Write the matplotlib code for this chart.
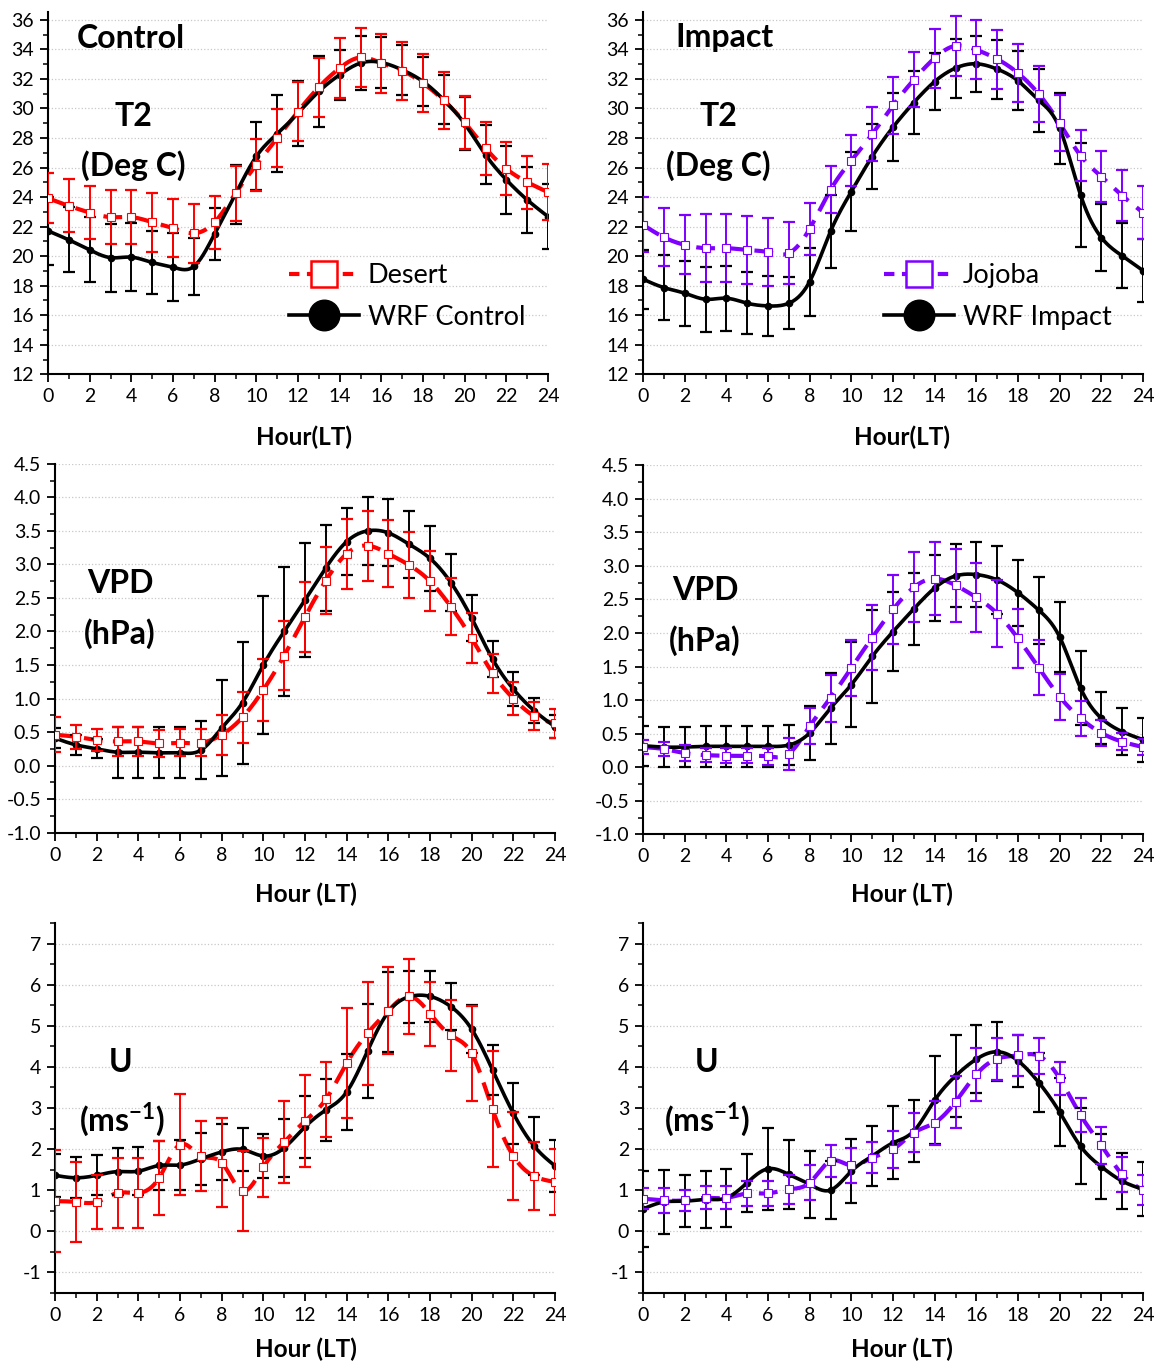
"""
Six-panel diurnal cycle: T2, VPD and U, observed vs WRF,
Control (left) and Impact (right), with error bars.
"""

import numpy as np
import matplotlib

matplotlib.use("Agg")
import matplotlib.pyplot as plt
from matplotlib.lines import Line2D
from matplotlib.ticker import MultipleLocator, FormatStrFormatter

plt.rcParams["font.family"] = ["Lato", "DejaVu Sans"]
plt.rcParams["mathtext.fontset"] = "custom"
plt.rcParams["mathtext.rm"] = "Lato"
plt.rcParams["mathtext.bf"] = "Lato:bold"

RED = "#FF0000"
PURPLE = "#7F00FF"

hours = np.arange(0, 25)

# ---- T2 (deg C)
t2_wrf_control = [21.71, 21.10, 20.42, 19.90, 19.93, 19.57, 19.25, 19.30, 21.51, 24.20, 26.75, 28.28, 29.68,
                  31.15, 32.28, 33.07, 33.11, 32.61, 31.82, 30.58, 28.96, 26.86, 25.17, 23.81, 22.68]
t2_wrf_control_err = [2.3, 2.2, 2.2, 2.3, 2.3, 2.1, 2.3, 1.9, 1.75, 2.0, 2.3, 2.6, 2.2,
                      2.4, 1.7, 1.8, 1.7, 1.7, 1.65, 1.65, 1.8, 2.0, 2.3, 2.25, 2.2]
t2_desert = [23.92, 23.40, 22.95, 22.64, 22.64, 22.30, 21.89, 21.55, 22.30, 24.26, 26.18, 27.99, 29.79,
             31.44, 32.73, 33.45, 33.07, 32.55, 31.71, 30.54, 29.05, 27.31, 25.91, 25.01, 24.33]
t2_desert_err = [1.7, 1.8, 1.8, 1.85, 1.85, 2.0, 1.95, 2.0, 1.8, 1.85, 1.75, 1.95, 2.0,
                 2.0, 2.05, 2.0, 2.0, 1.95, 1.95, 1.9, 1.8, 1.8, 1.8, 1.8, 1.9]

t2_wrf_impact = [18.44, 17.87, 17.49, 17.08, 17.15, 16.81, 16.63, 16.81, 18.28, 21.67, 24.37, 26.74, 28.73,
                 30.40, 31.82, 32.73, 33.02, 32.66, 31.87, 30.54, 28.66, 24.15, 21.26, 20.02, 19.02]
t2_wrf_impact_err = [2.0, 2.2, 2.2, 2.2, 2.2, 2.1, 2.05, 1.75, 2.3, 2.5, 2.65, 2.2, 2.3,
                     2.1, 1.9, 2.0, 1.9, 2.0, 2.0, 2.15, 2.4, 3.5, 2.3, 2.2, 2.15]
t2_jojoba = [22.12, 21.28, 20.76, 20.54, 20.54, 20.42, 20.27, 20.20, 21.85, 24.49, 26.47, 28.26, 30.20,
             31.94, 33.41, 34.24, 33.97, 33.34, 32.39, 30.97, 29.00, 26.81, 25.39, 24.10, 22.95]
t2_jojoba_err = [1.85, 1.95, 2.0, 2.3, 2.3, 2.3, 2.3, 2.1, 1.75, 1.6, 1.7, 1.85, 1.95,
                 1.85, 2.0, 2.05, 2.0, 2.0, 1.95, 1.9, 1.9, 1.75, 1.7, 1.75, 1.8]

# ---- VPD (hPa)
vpd_wrf_control = [0.41, 0.31, 0.25, 0.20, 0.20, 0.19, 0.19, 0.23, 0.56, 0.94, 1.50, 2.00, 2.47,
                   2.95, 3.34, 3.50, 3.47, 3.30, 3.09, 2.73, 2.20, 1.59, 1.14, 0.82, 0.58]
vpd_wrf_control_err = [0.15, 0.15, 0.14, 0.38, 0.38, 0.38, 0.38, 0.43, 0.71, 0.91, 1.03, 0.96, 0.85,
                       0.64, 0.50, 0.51, 0.50, 0.50, 0.48, 0.42, 0.34, 0.27, 0.25, 0.19, 0.17]
vpd_desert = [0.46, 0.43, 0.38, 0.36, 0.36, 0.33, 0.34, 0.34, 0.46, 0.72, 1.13, 1.64, 2.22,
              2.76, 3.16, 3.28, 3.16, 2.99, 2.75, 2.37, 1.90, 1.38, 1.00, 0.74, 0.63]
vpd_desert_err = [0.26, 0.18, 0.16, 0.22, 0.22, 0.20, 0.20, 0.20, 0.30, 0.38, 0.46, 0.51, 0.52,
                  0.50, 0.52, 0.52, 0.50, 0.49, 0.45, 0.42, 0.37, 0.29, 0.24, 0.21, 0.22]

vpd_wrf_impact = [0.32, 0.30, 0.30, 0.31, 0.31, 0.31, 0.31, 0.33, 0.51, 0.88, 1.23, 1.65, 2.02,
                  2.36, 2.67, 2.85, 2.87, 2.79, 2.60, 2.34, 1.94, 1.18, 0.73, 0.53, 0.41]
vpd_wrf_impact_err = [0.30, 0.30, 0.30, 0.30, 0.30, 0.30, 0.30, 0.30, 0.40, 0.53, 0.63, 0.69, 0.59,
                      0.54, 0.49, 0.47, 0.49, 0.50, 0.49, 0.50, 0.52, 0.55, 0.39, 0.35, 0.33]
vpd_jojoba = [0.30, 0.27, 0.21, 0.18, 0.17, 0.17, 0.16, 0.20, 0.61, 1.03, 1.48, 1.93, 2.35,
              2.68, 2.81, 2.71, 2.53, 2.29, 1.92, 1.48, 1.05, 0.73, 0.51, 0.38, 0.30]
vpd_jojoba_err = [0.10, 0.10, 0.12, 0.11, 0.11, 0.11, 0.12, 0.24, 0.27, 0.35, 0.42, 0.48, 0.51,
                  0.52, 0.54, 0.54, 0.51, 0.50, 0.44, 0.41, 0.34, 0.26, 0.20, 0.13, 0.12]

# ---- U (m/s)
u_wrf_control = [1.36, 1.30, 1.36, 1.45, 1.46, 1.60, 1.61, 1.76, 1.93, 1.99, 1.83, 2.03, 2.54,
                 2.95, 3.39, 4.39, 5.34, 5.71, 5.72, 5.47, 4.92, 3.93, 2.87, 2.07, 1.59]
u_wrf_control_err = [0.52, 0.50, 0.49, 0.58, 0.58, 0.59, 0.60, 0.64, 0.68, 0.53, 0.54, 0.70, 0.76,
                     0.76, 0.92, 1.15, 0.97, 0.64, 0.62, 0.57, 0.59, 0.61, 0.75, 0.71, 0.64]
u_desert = [0.73, 0.71, 0.71, 0.93, 0.93, 1.30, 2.11, 1.83, 1.67, 0.98, 1.56, 2.17, 2.68,
            3.21, 4.09, 4.82, 5.37, 5.72, 5.30, 4.77, 4.33, 2.97, 1.83, 1.34, 1.20]
u_desert_err = [1.24, 0.97, 0.65, 0.85, 0.85, 0.90, 1.23, 0.86, 1.09, 0.97, 0.72, 0.99, 1.12,
                0.92, 1.34, 1.26, 1.06, 0.91, 0.78, 0.87, 1.15, 1.41, 1.07, 0.82, 0.80]

u_wrf_impact = [0.54, 0.71, 0.73, 0.77, 0.81, 1.18, 1.52, 1.38, 1.14, 1.00, 1.46, 1.83, 2.15,
                2.44, 3.19, 3.78, 4.19, 4.37, 4.15, 3.62, 2.90, 2.07, 1.57, 1.22, 1.02]
u_wrf_impact_err = [0.93, 0.77, 0.64, 0.70, 0.70, 0.71, 1.00, 0.83, 0.81, 0.70, 0.78, 0.73, 0.89,
                    0.76, 1.07, 1.00, 0.83, 0.72, 0.64, 0.72, 0.82, 0.93, 0.79, 0.68, 0.66]
u_jojoba = [0.79, 0.75, 0.75, 0.81, 0.81, 0.92, 0.92, 1.02, 1.18, 1.71, 1.60, 1.79, 1.99,
            2.40, 2.64, 3.15, 3.82, 4.20, 4.28, 4.27, 3.72, 2.83, 2.09, 1.38, 1.00]
u_jojoba_err = [0.25, 0.30, 0.25, 0.28, 0.28, 0.30, 0.30, 0.35, 0.43, 0.40, 0.42, 0.37, 0.44,
                0.47, 0.53, 0.64, 0.65, 0.51, 0.51, 0.43, 0.41, 0.42, 0.45, 0.43, 0.37]


def spline(x, y, n=400):
    """Natural cubic spline through the points (Origin style smooth line)."""
    x = np.asarray(x, float)
    y = np.asarray(y, float)
    k = len(x)
    h = np.diff(x)
    A = np.zeros((k, k))
    r = np.zeros(k)
    A[0, 0] = A[-1, -1] = 1
    for i in range(1, k - 1):
        A[i, i - 1] = h[i - 1]
        A[i, i] = 2 * (h[i - 1] + h[i])
        A[i, i + 1] = h[i]
        r[i] = 3 * ((y[i + 1] - y[i]) / h[i] - (y[i] - y[i - 1]) / h[i - 1])
    c = np.linalg.solve(A, r)
    b = (y[1:] - y[:-1]) / h - h * (2 * c[:-1] + c[1:]) / 3
    d = (c[1:] - c[:-1]) / (3 * h)
    xs = np.linspace(x[0], x[-1], n)
    idx = np.clip(np.searchsorted(x, xs) - 1, 0, k - 2)
    dx = xs - x[idx]
    return xs, y[idx] + b[idx] * dx + c[idx] * dx ** 2 + d[idx] * dx ** 3


def panel(ax, obs, obs_err, wrf, wrf_err, color, ylim, major, minor, fmt):
    # observed: dashed line + open squares
    xs, ys = spline(hours, obs)
    ax.plot(xs, ys, color=color, lw=3.0, ls=(0, (4.5, 2.5)), zorder=2)
    # model: black error bars + smooth line + dots
    ax.errorbar(hours, wrf, yerr=wrf_err, fmt="none", ecolor="black",
                elinewidth=1.4, capsize=4, capthick=1.6, zorder=3)
    xs, ys = spline(hours, wrf)
    ax.plot(xs, ys, color="black", lw=2.6, zorder=4)
    ax.plot(hours, wrf, "o", color="black", ms=4.5, zorder=5)
    ax.errorbar(hours, obs, yerr=obs_err, fmt="none", ecolor=color,
                elinewidth=1.4, capsize=4, capthick=1.6, zorder=6)
    ax.plot(hours, obs, "s", ms=5.2, mfc="white", mec=color, mew=0.8, zorder=7)

    ax.set_xlim(0, 24)
    ax.set_ylim(*ylim)
    ax.xaxis.set_major_locator(MultipleLocator(2))
    ax.xaxis.set_minor_locator(MultipleLocator(1))
    ax.yaxis.set_major_locator(MultipleLocator(major))
    ax.yaxis.set_minor_locator(MultipleLocator(minor))
    ax.yaxis.set_major_formatter(FormatStrFormatter(fmt))
    for s in ("top", "right"):
        ax.spines[s].set_visible(False)
    for s in ("left", "bottom"):
        ax.spines[s].set_linewidth(1.5)
    ax.tick_params(which="major", direction="out", length=6, width=1.3, labelsize=14, pad=4)
    ax.tick_params(which="minor", direction="out", length=3.5, width=1.1)
    ax.grid(axis="y", which="major", ls=":", color="#c8c8c8", lw=0.9, zorder=0)
    ax.set_axisbelow(True)


W, H = 1163, 1363
fig = plt.figure(figsize=(W / 100, H / 100), dpi=100)
fig.patch.set_facecolor("white")


def add_axes(left, right, top, bottom):
    return fig.add_axes([left / W, 1 - bottom / H, (right - left) / W, (bottom - top) / H])


ax1 = add_axes(48, 548, 12.4, 374.3)
ax2 = add_axes(643, 1143, 12.4, 374.3)
ax3 = add_axes(55, 555, 463.8, 832.7)
ax4 = add_axes(643, 1143, 465.2, 834.3)
ax5 = add_axes(55, 555, 923.3, 1292.7)
ax6 = add_axes(643, 1143, 923.3, 1292.7)

panel(ax1, t2_desert, t2_desert_err, t2_wrf_control, t2_wrf_control_err, RED, (12, 36.5), 2, 1, "%d")
panel(ax2, t2_jojoba, t2_jojoba_err, t2_wrf_impact, t2_wrf_impact_err, PURPLE, (12, 36.5), 2, 1, "%d")
panel(ax3, vpd_desert, vpd_desert_err, vpd_wrf_control, vpd_wrf_control_err, RED, (-1.0, 4.5), 0.5, 0.25, "%.1f")
panel(ax4, vpd_jojoba, vpd_jojoba_err, vpd_wrf_impact, vpd_wrf_impact_err, PURPLE, (-1.0, 4.5), 0.5, 0.25, "%.1f")
panel(ax5, u_desert, u_desert_err, u_wrf_control, u_wrf_control_err, RED, (-1.5, 7.5), 1, 0.5, "%d")
panel(ax6, u_jojoba, u_jojoba_err, u_wrf_impact, u_wrf_impact_err, PURPLE, (-1.5, 7.5), 1, 0.5, "%d")

big = dict(fontsize=23, fontweight="bold", ha="center", va="center")


def label(xpx, ypx, text, **kw):
    # position given in figure pixels
    fig.text(xpx / W, 1 - ypx / H, text, **kw)


label(131, 38, "Control", **big)
label(133, 117, "T2", **big)
label(133, 166, "(Deg C)", **big)
label(725, 38, "Impact", **big)
label(718, 117, "T2", **big)
label(718, 166, "(Deg C)", **big)
label(120, 583, "VPD", **big)
label(120, 634, "(hPa)", **big)
label(705, 591, "VPD", **big)
label(705, 641, "(hPa)", **big)
label(121, 1062, "U", **big)
label(122, 1120, r"(ms$^{\mathbf{-1}}$)", **big)
label(707, 1062, "U", **big)
label(707, 1120, r"(ms$^{\mathbf{-1}}$)", **big)

xl = dict(fontsize=17.5, fontweight="bold", ha="center", va="center")
label(304, 437, "Hour(LT)", **xl)
label(902, 437, "Hour(LT)", **xl)
label(306, 894, "Hour (LT)", **xl)
label(902, 894, "Hour (LT)", **xl)
label(306, 1349, "Hour (LT)", **xl)
label(902, 1349, "Hour (LT)", **xl)

for ax, color, obs_name, wrf_name in [(ax1, RED, "Desert", "WRF Control"),
                                      (ax2, PURPLE, "Jojoba", "WRF Impact")]:
    handles = [
        Line2D([], [], color=color, lw=3, ls=(0, (2.5, 1.8)), marker="s", ms=19,
               mfc="white", mec=color, mew=1.8),
        Line2D([], [], color="black", lw=2.6, marker="o", ms=22),
    ]
    ax.legend(handles, [obs_name, wrf_name], loc="center left", bbox_to_anchor=(0.455, 0.215),
              frameon=False, fontsize=19.5, handlelength=2.6, handletextpad=0.3,
              labelspacing=0.6, borderpad=0.0)

fig.savefig("out.png", dpi=100, facecolor="white")
